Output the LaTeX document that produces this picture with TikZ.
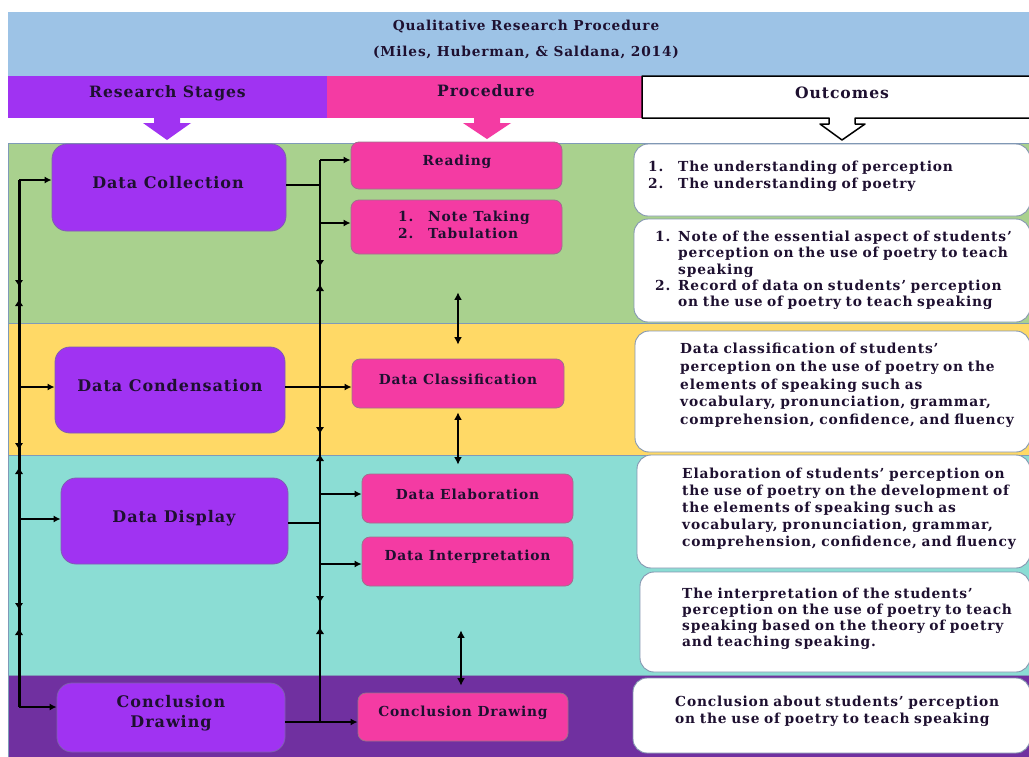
\documentclass[tikz,border=0pt]{standalone}
\usepackage{fontspec}
\setmainfont{DejaVu Serif}[LetterSpace=6]
\usetikzlibrary{arrows.meta,calc}
\definecolor{banner}{HTML}{9DC3E6}
\definecolor{stagec}{HTML}{A033F2}
\definecolor{stageedge}{HTML}{7F5FB0}
\definecolor{procc}{HTML}{F43BA3}
\definecolor{procedge}{HTML}{A0708C}
\definecolor{bgreen}{HTML}{A9D18E}
\definecolor{byellow}{HTML}{FFD966}
\definecolor{bteal}{HTML}{8BDDD4}
\definecolor{bpurple}{HTML}{7030A0}
\definecolor{bandedge}{HTML}{7F9AB8}
\definecolor{txt}{HTML}{1E1030}
\definecolor{outedge}{HTML}{8496B0}
\newcommand\myfs[2]{\fontsize{#1}{#2}\selectfont}
\begin{document}
\begin{tikzpicture}[x=1pt,y=-1pt,line join=round,
  stagebox/.style={draw=stageedge,line width=0.8pt,fill=stagec,rounded corners=15pt,inner sep=0pt},
  procbox/.style={draw=procedge,line width=0.8pt,fill=procc,rounded corners=8pt,inner sep=0pt},
  outbox/.style={draw=outedge,line width=0.9pt,fill=white,rounded corners=14pt,inner sep=0pt},
  headtext/.style={font=\bfseries\myfs{15.6}{18},text=txt,inner sep=0pt},
  titletext/.style={font=\bfseries\myfs{13.7}{16},text=txt,inner sep=0pt},
  stagetext/.style={font=\bfseries\myfs{16}{20},text=txt,align=center,inner sep=0pt},
  proctext/.style={font=\bfseries\myfs{13.8}{16.5},text=txt,align=left,inner sep=0pt},
  outtext/.style={text=txt,anchor=north west,inner sep=0pt,text width=360pt,align=left},
  arr/.style={line width=2pt,-{Latex[length=7pt,width=7pt]}},
  dbl/.style={line width=2.4pt,{Latex[length=7.5pt,width=8pt]}-{Latex[length=7.5pt,width=8pt]}},
  tipd/.style={line width=1.5pt,-{Latex[length=7pt,width=8.5pt]}},
  bus/.style={line width=3pt},
  mbus/.style={line width=2.5pt},
  plain/.style={line width=2pt},
  dline/.style={line width=1.6pt,dash pattern=on 6pt off 3pt}]
\useasboundingbox (0,0) rectangle (1029,756);
\fill[white] (0,0) rectangle (1029,756);
% bands
\filldraw[fill=bgreen,draw=bandedge,line width=0.7pt] (8,143) rectangle (1032,323);
\filldraw[fill=byellow,draw=bandedge,line width=0.7pt] (8,323) rectangle (1032,455);
\filldraw[fill=bteal,draw=bandedge,line width=0.7pt] (8,455) rectangle (1032,675);
\filldraw[fill=bpurple,draw=bandedge,line width=0.7pt] (8,675) rectangle (1032,760);
% banner
\node[fill=banner,inner sep=0pt,minimum width=1021pt,minimum height=64pt] (bn) at (518.5,44) {};
\node[titletext] (t1) at (526,27) {Qualitative Research Procedure};
\node[titletext] (t2) at (526,52) {(Miles, Huberman, \& Saldana, 2014)};
% header row
\node[fill=stagec,inner sep=0pt,minimum width=319pt,minimum height=42pt] (hs) at (167.5,97) {};
\node[fill=procc,inner sep=0pt,minimum width=315pt,minimum height=42pt] (hp) at (484.5,97) {};
\filldraw[fill=white,draw=black,line width=1.5pt] (1032,76) -- (642,76) -- (642,118) -- (829,118) -- (829,124) -- (820,124) -- (842,140) -- (865,124) -- (855,124) -- (855,118) -- (1032,118);
\node[headtext] (ths) at (167.5,93) {Research Stages};
\node[headtext] (thp) at (486,91) {Procedure};
\node[headtext] (tho) at (842,93) {Outcomes};
% block arrows
\fill[stagec] (154,117) -- (154,123) -- (143,123) -- (167,140) -- (191,123) -- (180,123) -- (180,117) -- cycle;
\fill[procc] (474,117) -- (474,123) -- (463,123) -- (487,139) -- (511,123) -- (500,123) -- (500,117) -- cycle;
% stage boxes
\node[stagebox,minimum width=234pt,minimum height=87pt] (sc) at (169,187.5) {};
\node[stagebox,minimum width=230pt,minimum height=86pt] (sd) at (170,390) {};
\node[stagebox,minimum width=227pt,minimum height=86pt] (sy) at (174.5,521) {};
\node[stagebox,minimum width=228pt,minimum height=69pt] (sz) at (171,717.5) {};
\node[stagetext] (tsc) at (168,183) {Data Collection};
\node[stagetext] (tsd) at (170,386) {Data Condensation};
\node[stagetext] (tsy) at (174,518) {Data Display};
\node[stagetext] (tsz) at (171,713) {Conclusion\\Drawing};
% procedure boxes
\node[procbox,minimum width=211pt,minimum height=47pt] (pr) at (456.5,165.5) {};
\node[procbox,minimum width=211pt,minimum height=54pt] (pn) at (456.5,227) {};
\node[procbox,minimum width=212pt,minimum height=49pt] (pc) at (458,383.5) {};
\node[procbox,minimum width=211pt,minimum height=49pt] (pe) at (467.5,498.5) {};
\node[procbox,minimum width=211pt,minimum height=49pt] (pi) at (467.5,561.5) {};
\node[procbox,minimum width=210pt,minimum height=48pt] (pz) at (463,717) {};
\node[proctext] (tpr) at (457,162) {Reading};
\node[proctext,anchor=west] (tpn) at (398,225) {\makebox[30pt][l]{1.}Note Taking\\\makebox[30pt][l]{2.}Tabulation};
\node[proctext] (tpc) at (458,379) {Data Classification};
\node[proctext] (tpe) at (467.5,494) {Data Elaboration};
\node[proctext] (tpi) at (467.5,557) {Data Interpretation};
\node[proctext] (tpz) at (463,713) {Conclusion Drawing};
% outcome boxes
\node[outbox,minimum width=396pt,minimum height=72pt] (o1) at (832,180) {};
\node[outbox,minimum width=396pt,minimum height=103pt] (o2) at (832,270.5) {};
\node[outbox,minimum width=395pt,minimum height=121pt] (o3) at (832.5,391.5) {};
\node[outbox,minimum width=393pt,minimum height=113pt] (o4) at (833.5,511.5) {};
\node[outbox,minimum width=390pt,minimum height=100pt] (o5) at (835,622) {};
\node[outbox,minimum width=397pt,minimum height=75pt] (o6) at (831.5,715.5) {};
\node[outtext,font=\bfseries\myfs{13.8}{17}] (to1) at (648,159.5) {\strut\makebox[30pt][l]{1.}The understanding of perception\\\makebox[30pt][l]{2.}The understanding of poetry};
\node[outtext,font=\bfseries\myfs{13.8}{16.3}] (to2) at (655,229.8) {\strut\makebox[23pt][l]{1.}Note of the essential aspect of students’\\\hspace*{23pt}perception on the use of poetry to teach\\\hspace*{23pt}speaking\\\makebox[23pt][l]{2.}Record of data on students’ perception\\\hspace*{23pt}on the use of poetry to teach speaking};
\node[outtext,font=\bfseries\myfs{13.8}{17.7}] (to3) at (680,341.2) {\strut Data classification of students’\\perception on the use of poetry on the\\elements of speaking such as\\vocabulary, pronunciation, grammar,\\comprehension, confidence, and fluency};
\node[outtext,font=\bfseries\myfs{13.8}{17}] (to4) at (682,466.5) {\strut Elaboration of students’ perception on\\the use of poetry on the development of\\the elements of speaking such as\\vocabulary, pronunciation, grammar,\\comprehension, confidence, and fluency};
\node[outtext,font=\bfseries\myfs{13.8}{16}] (to5) at (682,587) {\strut The interpretation of the students’\\perception on the use of poetry to teach\\speaking based on the theory of poetry\\and teaching speaking.};
\node[outtext,font=\bfseries\myfs{13.8}{17}] (to6) at (675,694.5) {\strut Conclusion about students’ perception\\on the use of poetry to teach speaking};
% left bus
\coordinate (lt) at (19,180);
\coordinate (l2) at (19,387);
\coordinate (l3) at (19,519);
\coordinate (lb) at (19,707);
\draw[bus] (lt) -- (lb);
\draw[arr] (lt) -- (lt -| sc.west);
\draw[arr] (l2) -- (l2 -| sd.west);
\draw[arr] (l3) -- (l3 -| sy.west);
\draw[arr] (lb) -- (lb -| sz.west);
\draw[tipd] (19,277) -- (19,287);
\draw[tipd] (19,309) -- (19,299);
\draw[tipd] (19,440) -- (19,450);
\draw[tipd] (19,477) -- (19,467);
\draw[tipd] (19,600) -- (19,610);
\draw[tipd] (19,638) -- (19,628);
% middle bus
\coordinate (mt) at (320,160);
\coordinate (m1) at (320,185);
\coordinate (m2) at (320,223);
\coordinate (m3) at (320,387);
\coordinate (m4) at (320,494);
\coordinate (m5) at (320,564);
\coordinate (m6) at (320,523);
\coordinate (mb) at (320,722);
\draw[mbus] (mt) -- (mb);
\draw[arr] (mt) -- (mt -| pr.west);
\draw[plain] (m1 -| sc.east) -- (m1);
\draw[arr] (m2) -- (m2 -| pn.west);
\draw[arr] (m3 -| sd.east) -- (m3 -| pc.west);
\draw[arr] (m4) -- (m4 -| pe.west);
\draw[arr] (m5) -- (m5 -| pi.west);
\draw[plain] (m6 -| sy.east) -- (m6);
\draw[arr] (mb -| sz.east) -- (mb -| pz.west);
\draw[tipd] (320,257) -- (320,267);
\draw[tipd] (320,294) -- (320,284);
\draw[tipd] (320,424) -- (320,434);
\draw[tipd] (320,464) -- (320,454);
\draw[tipd] (320,593) -- (320,603);
\draw[tipd] (320,637) -- (320,627);
% vertical double arrows
\draw[dbl] ($(pn.south)+(1.5,38)$) -- ($(pc.north)+(0,-14)$);
\draw[dbl] ($(pc.south)+(0,4)$) -- ($(pc.south |- pe.north)+(0,-9)$);
\draw[dbl] ($(pi.south)+(-6.5,44)$) -- ($(pz.north)+(-2,-7)$);
% dashed links
\draw[dline] ($(pr.east)+(0,2.5)$) -- ($(pr.east)+(0,2.5)$ -| o1.west);
\draw[dline] ($(pn.east)+(0,10)$) -- ($(pn.east)+(0,10)$ -| o2.west);
\draw[dline] ($(pc.east)+(0,3.5)$) -- ($(pc.east)+(0,3.5)$ -| o3.west);
\draw[dline] ($(pe.east)+(0,-5.5)$) -- ($(pe.east)+(0,-5.5)$ -| o4.west);
\draw[dline] ($(pi.east)+(0,11.5)$) -- ($(pi.east)+(0,11.5)$ -| o5.west);
\draw[dline] ($(pz.east)+(0,-4)$) -- ($(pz.east)+(0,-4)$ -| o6.west);
\end{tikzpicture}
\end{document}
